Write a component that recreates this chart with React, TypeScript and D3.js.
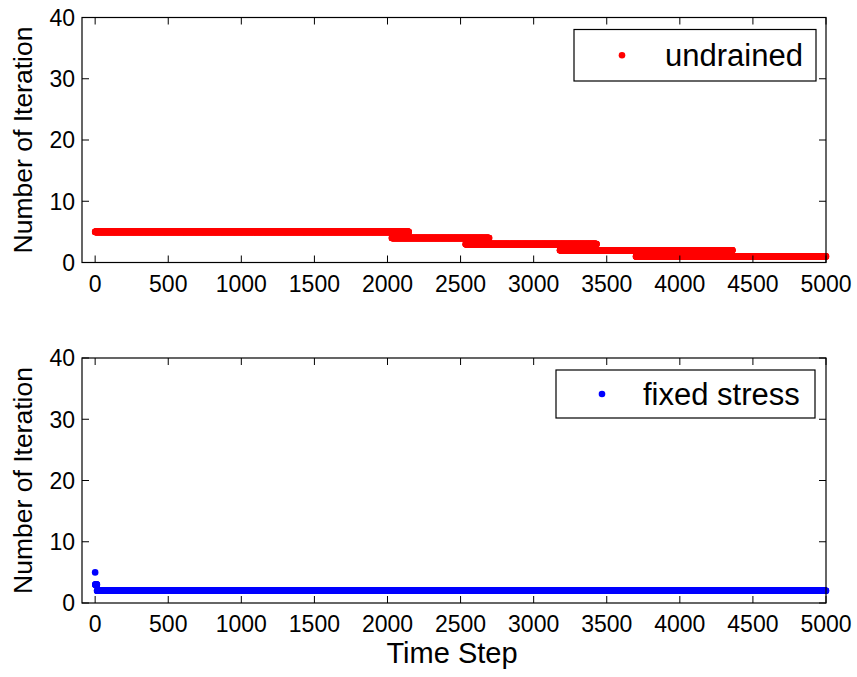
import React from 'react';
import * as d3 from 'd3';

// Axis ticks
const xTicks = [0, 500, 1000, 1500, 2000, 2500, 3000, 3500, 4000, 4500, 5000];
const yTicks = [0, 10, 20, 30, 40];

// Runs of constant iteration count: [first step, last step, iterations].
// Neighbouring runs overlap where the solver alternates between two counts.
const undrainedRuns: [number, number, number][] = [
  [0, 2145, 5],
  [2030, 2695, 4],
  [2535, 3430, 3],
  [3180, 4360, 2],
  [3700, 5000, 1],
];

const fixedStressRuns: [number, number, number][] = [
  [0, 0, 5],
  [1, 12, 3],
  [13, 5000, 2],
];

const W = 857;
const H = 677;
const LEFT = 82;
const RIGHT = 826;
const FONT = '"Liberation Sans", Arial, Helvetica, sans-serif';
const TICK = 7;

function expand(runs: [number, number, number][]) {
  const pts: { step: number; iter: number }[] = [];
  for (const [a, b, v] of runs) {
    for (let s = a; s <= b; s++) pts.push({ step: s, iter: v });
  }
  return pts;
}

const x = d3.scaleLinear().domain([-90, 5000]).range([LEFT, RIGHT]);

type PanelProps = {
  top: number;
  bottom: number;
  runs: [number, number, number][];
  color: string;
  label: string;
  legend: { x0: number; x1: number; y0: number; y1: number; dotX: number; textX: number };
};

function Panel({ top, bottom, runs, color, label, legend }: PanelProps) {
  const y = d3.scaleLinear().domain([0, 40]).range([bottom, top]);
  const pts = expand(runs);
  const midY = (top + bottom) / 2;
  return (
    <g>
      {/* data markers */}
      <g fill={color}>
        {pts.map((p, i) => (
          <circle key={i} cx={x(p.step)} cy={y(p.iter)} r={3.3} />
        ))}
      </g>
      {/* box */}
      <rect x={LEFT} y={top} width={RIGHT - LEFT} height={bottom - top} fill="none" stroke="#000" strokeWidth={1.2} />
      {/* x ticks (bottom and top, inward) */}
      {xTicks.map((t) => (
        <g key={'x' + t}>
          <line x1={x(t)} x2={x(t)} y1={bottom} y2={bottom - TICK} stroke="#000" strokeWidth={1} />
          <line x1={x(t)} x2={x(t)} y1={top} y2={top + TICK} stroke="#000" strokeWidth={1} />
          <text x={x(t)} y={bottom + 29} textAnchor="middle" fontSize={23} fontFamily={FONT} fill="#000">
            {t}
          </text>
        </g>
      ))}
      {/* y ticks (left and right, inward) */}
      {yTicks.map((t) => (
        <g key={'y' + t}>
          <line x1={LEFT} x2={LEFT + TICK} y1={y(t)} y2={y(t)} stroke="#000" strokeWidth={1} />
          <line x1={RIGHT} x2={RIGHT - TICK} y1={y(t)} y2={y(t)} stroke="#000" strokeWidth={1} />
          <text x={LEFT - 7} y={y(t)} dy="0.36em" textAnchor="end" fontSize={23} fontFamily={FONT} fill="#000">
            {t}
          </text>
        </g>
      ))}
      {/* y axis title */}
      <text
        transform={`translate(32,${midY}) rotate(-90)`}
        textAnchor="middle"
        fontSize={26.5}
        fontFamily={FONT}
        fill="#000"
      >
        Number of Iteration
      </text>
      {/* legend */}
      <rect
        x={legend.x0}
        y={legend.y0}
        width={legend.x1 - legend.x0}
        height={legend.y1 - legend.y0}
        fill="#fff"
        stroke="#000"
        strokeWidth={1.2}
      />
      <circle cx={legend.dotX} cy={(legend.y0 + legend.y1) / 2} r={3.3} fill={color} />
      <text
        x={legend.textX}
        y={(legend.y0 + legend.y1) / 2}
        dy="0.36em"
        fontSize={31}
        fontFamily={FONT}
        fill="#000"
      >
        {label}
      </text>
    </g>
  );
}

export default function App() {
  return (
    <svg
      width={W}
      height={H}
      viewBox={`0 0 ${W} ${H}`}
      style={{ position: 'absolute', left: 0, top: 0, background: '#fff' }}
    >
      <rect width={W} height={H} fill="#fff" />
      <Panel
        top={17.5}
        bottom={262.5}
        runs={undrainedRuns}
        color="#ff0000"
        label="undrained"
        legend={{ x0: 574, x1: 816, y0: 29.5, y1: 81, dotX: 622, textX: 665 }}
      />
      <Panel
        top={358}
        bottom={603}
        runs={fixedStressRuns}
        color="#0000ff"
        label="fixed stress"
        legend={{ x0: 556, x1: 815, y0: 370, y1: 418, dotX: 602, textX: 643 }}
      />
      <text x={452} y={663} textAnchor="middle" fontSize={29} fontFamily={FONT} fill="#000">
        Time Step
      </text>
    </svg>
  );
}
